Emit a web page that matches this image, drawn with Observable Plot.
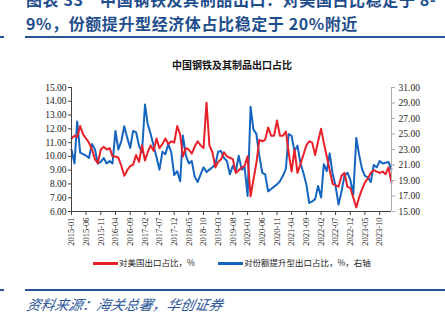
<!DOCTYPE html>
<html><head><meta charset="utf-8">
<script src="https://cdn.jsdelivr.net/npm/d3@7"></script>
<script src="https://cdn.jsdelivr.net/npm/@observablehq/plot@0.6"></script>
<style>
html,body{margin:0;padding:0;background:#fff;width:445px;height:322px;overflow:hidden;position:relative;font-family:"Noto Sans CJK SC",sans-serif;}
.abs{position:absolute;white-space:nowrap;}
.ttl{color:#1f4e8c;font-weight:bold;font-size:16px;left:26px;font-family:"Noto Sans CJK SC",sans-serif;letter-spacing:0.6px;}
.rule{position:absolute;left:25px;right:0;height:2px;background:#2a5597;}
.tick{position:absolute;left:0;width:4px;height:2px;background:#2a5597;}
#chart{position:absolute;left:0;top:50px;}
.leg{font-size:8.5px;color:#222;top:256px;font-family:"Noto Sans CJK SC",sans-serif;}
.sw{display:inline-block;width:25px;height:2.5px;vertical-align:middle;margin-right:1px;}
</style></head>
<body>
<div class="abs ttl" style="top:-13px;">图表 33　中国钢铁及其制品出口：对美国占比稳定于 8-</div>
<div class="abs ttl" style="top:11px;">9%，份额提升型经济体占比稳定于 20%附近</div>
<div class="rule" style="top:36px;"></div><div class="tick" style="top:36px;"></div>
<div class="abs" style="left:172px;top:57px;font-size:10px;font-weight:bold;color:#111;">中国钢铁及其制品出口占比</div>
<div id="chart"></div>
<div class="abs leg" style="left:93px;"><span class="sw" style="background:#e8202a"></span>对美国出口占比，%</div>
<div class="abs leg" style="left:218px;"><span class="sw" style="background:#1565c0"></span>对份额提升型出口占比，%，右轴</div>
<div class="rule" style="top:289px;"></div><div class="tick" style="top:289px;"></div>
<div class="abs" style="left:27px;top:294px;font-size:14px;font-style:italic;color:#2a5597;font-family:'Noto Sans CJK SC',sans-serif;transform:skewX(-12deg);">资料来源：海关总署，华创证券</div>
<script>
const startMonth = "2015-01";
const usShare = [11.3,11.5,11.4,12.2,11.6,11.3,11.0,10.5,9.8,9.5,
10.5,10.7,10.5,10.6,10.0,10.0,9.9,9.3,8.6,9.0,
9.3,9.4,10.1,9.6,10.8,9.7,10.3,10.8,10.4,11.3,
10.6,10.9,11.3,10.9,11.1,11.0,12.2,11.6,10.0,10.6,
10.5,10.2,10.7,11.1,10.8,10.6,13.9,10.8,10.3,9.2,
9.6,9.8,10.3,10.0,9.9,9.8,8.8,9.0,9.2,9.3,
10.0,7.1,8.3,9.5,11.2,11.1,11.2,12.1,11.5,11.5,
12.6,11.5,11.5,11.8,10.3,8.9,10.5,8.8,9.4,10.1,
10.8,11.1,11.0,10.1,11.1,12.0,11.0,10.0,9.0,8.0,
7.9,7.8,8.6,8.8,7.8,7.7,7.0,6.3,7.0,7.6,
8.1,8.4,8.8,9.0,8.9,8.8,8.9,8.7,9.2,8.1];
const riseShare = [23.0,21.2,26.6,22.6,22.4,22.2,21.9,23.7,23.0,21.2,
21.4,21.9,21.2,21.5,21.2,25.4,23.0,24.1,26.0,24.5,
23.2,25.4,25.2,23.5,22.6,28.8,26.3,25.0,23.5,22.0,
20.4,22.7,22.4,23.7,22.6,19.7,20.2,18.9,24.8,22.2,
21.2,21.5,19.5,18.8,19.8,20.7,20.1,20.4,20.7,21.1,
22.7,22.8,21.9,21.5,19.8,20.9,20.2,22.2,20.4,20.7,
17.0,28.5,25.6,25.0,22.2,20.0,19.8,17.6,17.9,18.2,
18.5,18.9,19.6,20.5,25.0,24.75,22.8,23.5,21.3,20.0,
18.5,16.1,16.3,16.6,18.3,16.8,21.1,20.2,22.5,19.8,
18.3,15.9,17.6,19.6,20.0,19.1,17.2,24.5,22.4,20.5,
19.6,19.4,18.8,21.0,20.7,21.5,21.2,21.3,21.4,20.4];
const leftTicks = [6,7,8,9,10,11,12,13,14,15];
const rightTicks = [15,17,19,21,23,25,27,29,31];
const leftDomain = [6,15];
const rightDomain = [15,31];

const start = d3.utcParse("%Y-%m")(startMonth);
const months = usShare.map((_, i) => d3.utcMonth.offset(start, i));
const toLeft = v => leftDomain[0] + (v - rightDomain[0]) * (leftDomain[1]-leftDomain[0]) / (rightDomain[1]-rightDomain[0]);
const toRight = v => rightDomain[0] + (v - leftDomain[0]) * (rightDomain[1]-rightDomain[0]) / (leftDomain[1]-leftDomain[0]);
const redData = months.map((d,i)=>({date:d, v:usShare[i]}));
const blueData = months.map((d,i)=>({date:d, v:toLeft(riseShare[i])}));
const xTicks = months.filter((d,i)=> i % 5 === 0);
const fmt = d3.utcFormat("%Y-%m");

const chart = Plot.plot({
  width: 445, height: 200,
  marginTop: 37, marginBottom: 39, marginLeft: 71, marginRight: 54,
  style: {fontFamily: "'Liberation Serif', serif", fontSize: "9.5px", color: "#222", background: "transparent"},
  x: {type: "utc", domain: [months[0], months[months.length-1]]},
  y: {domain: leftDomain},
  marks: [
    Plot.line(blueData, {x: "date", y: "v", stroke: "#1565c0", strokeWidth: 2}),
    Plot.line(redData, {x: "date", y: "v", stroke: "#e8202a", strokeWidth: 2}),
    Plot.axisY(leftTicks, {anchor: "left", tickFormat: d => d.toFixed(2), tickSize: 3, tickPadding: 2, label: null, stroke: "#444"}),
    Plot.ruleX([months[0]], {stroke: "#444", strokeWidth: 1}),
    Plot.axisY(rightTicks.map(toLeft), {anchor: "right", tickFormat: d => toRight(d).toFixed(2), tickSize: 3, tickPadding: 4, label: null, stroke: "#aaa", fill: "#222"}),
    Plot.ruleX([months[months.length-1]], {stroke: "#aaa", strokeWidth: 1}),
    Plot.ruleY([leftDomain[0]], {stroke: "#444", strokeWidth: 1}),
    Plot.axisX(xTicks, {anchor: "bottom", tickFormat: fmt, tickRotate: -90, tickSize: 4, tickPadding: 2, label: null, stroke: "#444", fontSize: 8.5})
  ]
});
document.getElementById("chart").appendChild(chart);
</script>
</body></html>
